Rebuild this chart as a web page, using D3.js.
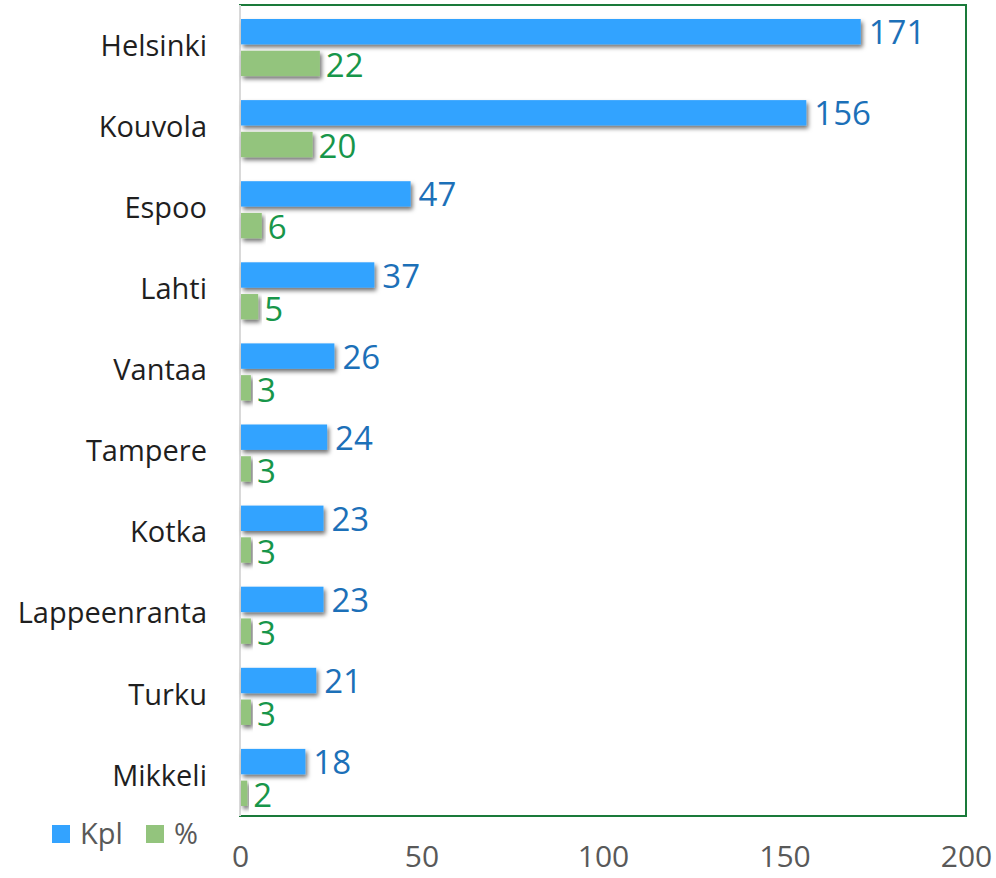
<!DOCTYPE html>
<html>
<head>
<meta charset="utf-8">
<script src="https://cdn.jsdelivr.net/npm/d3@7"></script>
<style>
  body { margin: 0; background: #fff; }
  text { font-family: "Open Sans", "Noto Sans", sans-serif; }
</style>
</head>
<body>
<svg width="996" height="878"></svg>
<script>
// data
var cities = ["Helsinki", "Kouvola", "Espoo", "Lahti", "Vantaa", "Tampere", "Kotka", "Lappeenranta", "Turku", "Mikkeli"];
var kpl = [171, 156, 47, 37, 26, 24, 23, 23, 21, 18];
var pct = [22, 20, 6, 5, 3, 3, 3, 3, 3, 2];
var xTicks = [0, 50, 100, 150, 200];
var seriesNames = ["Kpl", "%"];

var svg = d3.select("svg"),
    margin = {top: 5, right: 30, bottom: 62, left: 240},
    width = 996 - margin.left - margin.right,
    height = 878 - margin.top - margin.bottom,
    g = svg.append("g").attr("transform", "translate(" + margin.left + "," + margin.top + ")");

var blue = "#33a3ff", green = "#93c47d";

var defs = svg.append("defs");
defs.append("filter")
    .attr("id", "shadow")
    .attr("x", "-10%").attr("y", "-30%")
    .attr("width", "130%").attr("height", "180%")
  .append("feDropShadow")
    .attr("dx", 2).attr("dy", 3)
    .attr("stdDeviation", 2)
    .attr("flood-color", "#000")
    .attr("flood-opacity", 0.55);

var x = d3.scaleLinear()
    .domain([0, 200])
    .range([0, width]);

var y = d3.scaleBand()
    .domain(cities)
    .range([0, height]);

var sub = d3.scaleBand()
    .domain(seriesNames)
    .range([14, y.bandwidth() - 10])
    .paddingInner(0.2);

var rows = cities.map(function (c, i) { return {city: c, kpl: kpl[i], pct: pct[i]}; });

// plot frame
g.append("rect")
    .attr("width", width)
    .attr("height", height)
    .attr("fill", "none")
    .attr("stroke", "#1a7a3a")
    .attr("stroke-width", 2);

g.append("line")
    .attr("x1", 0).attr("x2", 0)
    .attr("y1", 0).attr("y2", height)
    .attr("stroke", "#d9d9d9")
    .attr("stroke-width", 2);

var row = g.selectAll(".row")
    .data(rows)
  .enter().append("g")
    .attr("class", "row")
    .attr("transform", function (d) { return "translate(0," + y(d.city) + ")"; });

row.append("rect")
    .attr("x", 1)
    .attr("y", sub("Kpl"))
    .attr("width", function (d) { return x(d.kpl) - 1; })
    .attr("height", sub.bandwidth())
    .attr("fill", blue)
    .attr("filter", "url(#shadow)");

row.append("rect")
    .attr("x", 1)
    .attr("y", sub("%"))
    .attr("width", function (d) { return x(d.pct) - 1; })
    .attr("height", sub.bandwidth())
    .attr("fill", green)
    .attr("filter", "url(#shadow)");

row.append("text")
    .attr("x", function (d) { return x(d.kpl) + 8; })
    .attr("y", sub("Kpl") + sub.bandwidth() / 2)
    .attr("dy", "0.38em")
    .attr("fill", "#1c70b8")
    .attr("font-size", 33)
    .text(function (d) { return d.kpl; });

row.append("text")
    .attr("x", function (d) { return x(d.pct) + 6; })
    .attr("y", sub("%") + sub.bandwidth() / 2)
    .attr("dy", "0.42em")
    .attr("fill", "#17964a")
    .attr("font-size", 33)
    .text(function (d) { return d.pct; });

// category labels
g.append("g")
    .selectAll("text")
    .data(cities)
  .enter().append("text")
    .attr("x", -33)
    .attr("y", function (d) { return y(d) + y.bandwidth() / 2; })
    .attr("dy", "0.35em")
    .attr("text-anchor", "end")
    .attr("fill", "#1f1f1f")
    .attr("font-size", 29)
    .text(function (d) { return d; });

// x axis, tick labels only
var xAxis = g.append("g")
    .attr("class", "axis")
    .attr("transform", "translate(0," + height + ")")
    .call(d3.axisBottom(x).tickValues(xTicks).tickSize(0).tickPadding(30));
xAxis.select(".domain").remove();
xAxis.selectAll("text")
    .attr("fill", "#595959")
    .attr("font-size", 30)
    .attr("font-family", "Open Sans, Noto Sans, sans-serif");

// legend
var legend = svg.append("g").attr("transform", "translate(52,825)");
var item = legend.selectAll("g")
    .data(seriesNames)
  .enter().append("g")
    .attr("transform", function (d, i) { return "translate(" + (i * 94) + ",0)"; });
item.append("rect")
    .attr("width", 18).attr("height", 18)
    .attr("fill", function (d, i) { return i === 0 ? blue : green; });
item.append("text")
    .attr("x", 28)
    .attr("y", 9)
    .attr("dy", "0.36em")
    .attr("fill", "#595959")
    .attr("font-size", 29)
    .text(function (d) { return d; });
</script>
</body>
</html>
